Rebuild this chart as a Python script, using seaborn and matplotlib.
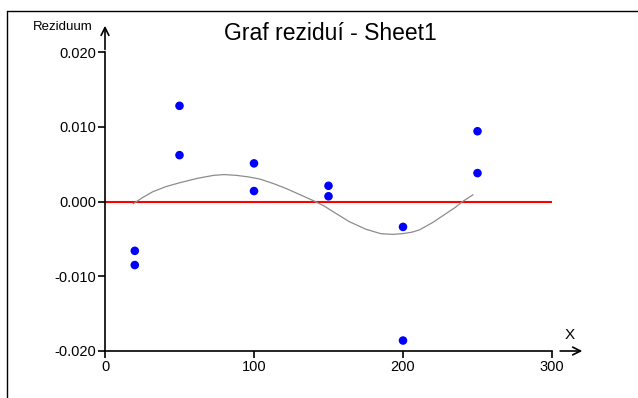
import matplotlib
matplotlib.use("Agg")
import matplotlib.pyplot as plt
from matplotlib.lines import Line2D
from matplotlib.ticker import FormatStrFormatter
import seaborn as sns
import pandas as pd

# ---- data ----
x_values = [20, 20, 50, 50, 100, 100, 150, 150, 200, 200, 250, 250]
residuals = [-0.0066, -0.0085, 0.0128, 0.0062, 0.0051, 0.0014,
             0.0021, 0.0007, -0.0034, -0.0186, 0.0094, 0.0038]

curve_x = [19, 25, 32, 41, 50, 62, 73, 80, 88, 96, 104, 113, 122, 131, 140, 147, 155,
           164, 175, 185, 193, 200, 206, 211, 220, 229, 235, 240, 247]
curve_y = [-0.0003, 0.0005, 0.0013, 0.0020, 0.0025, 0.0031, 0.0035, 0.0036, 0.0035,
           0.0033, 0.0030, 0.0024, 0.0017, 0.0009, 0.0001, -0.0006, -0.0016,
           -0.0027, -0.0037, -0.0043, -0.0044, -0.0043, -0.0041, -0.0038, -0.0028,
           -0.0016, -0.0008, 0.0000, 0.0009]

x_ticks = [0, 100, 200, 300]
y_ticks = [-0.020, -0.010, 0.000, 0.010, 0.020]

title = "Graf reziduí - Sheet1"
ylabel = "Reziduum"
xlabel = "X"

sns.set_theme(style="white")
plt.rcParams['font.family'] = ['Liberation Sans', 'DejaVu Sans']
plt.rcParams['text.color'] = 'black'

W, H = 638, 398
fig = plt.figure(figsize=(W / 100, H / 100), dpi=100)
ax = fig.add_axes([105 / W, (H - 351) / H, 447 / W, 299 / H])

pts = pd.DataFrame({"x": x_values, "r": residuals})
curve = pd.DataFrame({"x": curve_x, "y": curve_y})

ax.axhline(0, color="#ff0000", lw=1.5, zorder=2)
sns.lineplot(data=curve, x="x", y="y", ax=ax, color="#8c8c8c", lw=0.9, zorder=3, sort=False)
sns.scatterplot(data=pts, x="x", y="r", ax=ax, color="#0000ff", s=38, edgecolor="none", zorder=4)

ax.set_xlim(0, 300)
ax.set_ylim(-0.020, 0.020)
ax.set_xticks(x_ticks)
ax.set_yticks(y_ticks)
ax.yaxis.set_major_formatter(FormatStrFormatter('%.3f'))
ax.set_xlabel("")
ax.set_ylabel("")

for s in ["top", "right"]:
    ax.spines[s].set_visible(False)
for s in ["left", "bottom"]:
    ax.spines[s].set_linewidth(1.2)
    ax.spines[s].set_color("black")

ax.tick_params(axis="both", which="major", direction="out", length=5, width=1.2,
               color="black", labelsize=10.5, labelcolor="black", pad=1.5, left=True, bottom=True)

# axis arrows
ax.annotate("", xy=(1.074, 0), xytext=(1.012, 0), xycoords="axes fraction",
            textcoords="axes fraction",
            arrowprops=dict(arrowstyle="->", lw=1.2, color="black", mutation_scale=14))
ax.annotate("", xy=(0, 1.097), xytext=(0, 0.999), xycoords="axes fraction",
            textcoords="axes fraction",
            arrowprops=dict(arrowstyle="->", lw=1.2, color="black", mutation_scale=14))

ax.text(1.029, 0.03, xlabel, transform=ax.transAxes, fontsize=11, ha="left", va="bottom",
        color="black")
ax.text(-0.027, 1.085, ylabel, transform=ax.transAxes, fontsize=9.5, ha="right", va="center",
        color="black")

fig.text(330 / W, 1 - 33 / H, title, fontsize=16.5, ha="center", va="center", color="black")

# outer frame lines (top and left)
fig.add_artist(Line2D([7 / W, 1.0], [1 - 11 / H, 1 - 11 / H], color="black", lw=1.0,
                      transform=fig.transFigure))
fig.add_artist(Line2D([7 / W, 7 / W], [0, 1 - 11 / H], color="black", lw=1.0,
                      transform=fig.transFigure))

fig.savefig("out.png", dpi=100)
